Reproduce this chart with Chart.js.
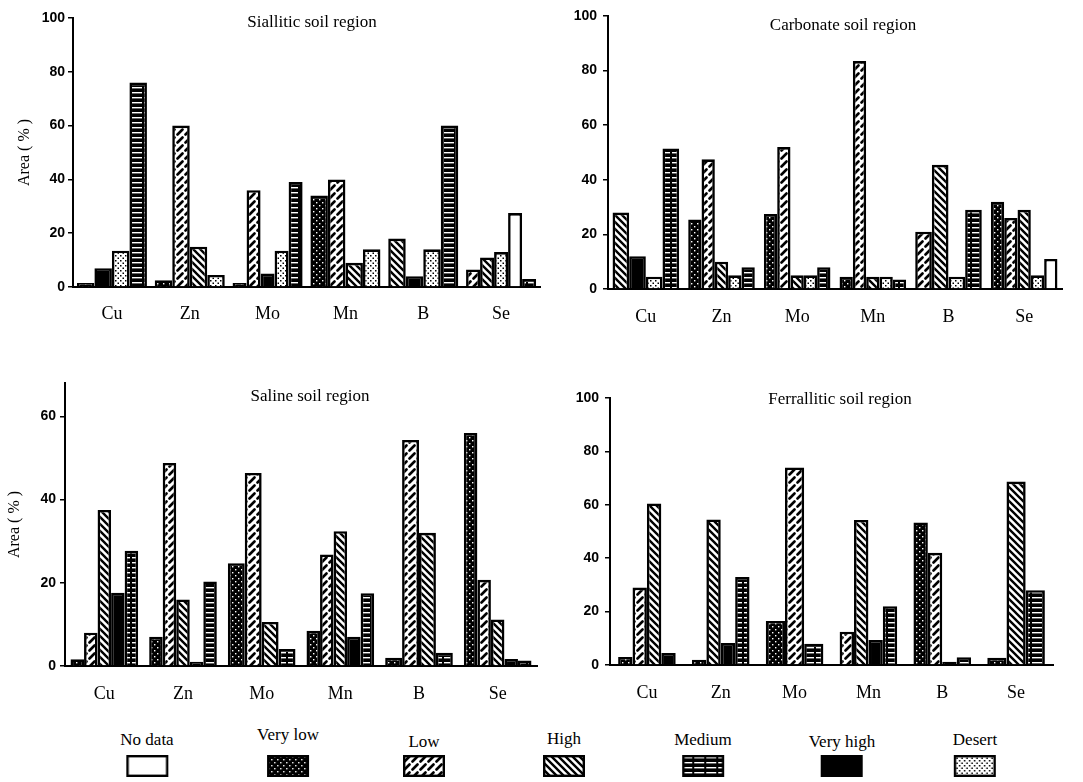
<!DOCTYPE html>
<html><head><meta charset="utf-8">
<script src="https://cdn.jsdelivr.net/npm/chart.js@4.4.0/dist/chart.umd.min.js"></script>
<style>
html,body{margin:0;padding:0;background:#fff;}
#wrap{position:relative;width:1083px;height:782px;overflow:hidden;font-family:"Liberation Serif","DejaVu Serif",serif;color:#000;}
.pc{position:absolute;}
.ttl{position:absolute;font-size:17px;transform:translate(-50%,-50%);white-space:nowrap;}
.lg{position:absolute;transform:translateX(-50%);text-align:center;font-size:17px;white-space:nowrap;line-height:18px;}
.lg canvas{display:block;margin:6px auto 0;}
</style></head><body>
<div id="wrap">
  <canvas id="c1" class="pc" style="left:0;top:0" width="548" height="330"></canvas>
  <canvas id="c2" class="pc" style="left:540px;top:0" width="543" height="330"></canvas>
  <canvas id="c3" class="pc" style="left:0;top:340px" width="548" height="370"></canvas>
  <canvas id="c4" class="pc" style="left:540px;top:340px" width="543" height="370"></canvas>
  <div class="ttl" style="left:312px;top:22px">Siallitic soil region</div>
  <div class="ttl" style="left:843px;top:25px">Carbonate soil region</div>
  <div class="ttl" style="left:310px;top:396px">Saline soil region</div>
  <div class="ttl" style="left:840px;top:399px">Ferrallitic soil region</div>
  <div id="legend"></div>
</div>
<script>
// ---- data ----
const categories = ['Cu', 'Zn', 'Mo', 'Mn', 'B', 'Se'];
const legendNames = ['No data', 'Very low', 'Low', 'High', 'Medium', 'Very high', 'Desert'];
const drawOrder = ['Very low', 'Low', 'High', 'Very high', 'Desert', 'No data', 'Medium'];
const yTickStep = 20;
const yMaxFull = 100;
const yMaxSaline = 68;
const yTitle = 'Area ( % )';

// Siallitic soil region
const siaNoData   = [null, null, null, null, null, 27.5];
const siaVeryLow  = [1.5, 2.5, 1.5, 34, null, null];
const siaLow      = [null, 60, 36, 40, null, 6.5];
const siaHigh     = [null, 15, null, 9, 18, 11];
const siaMedium   = [76, null, 39, null, 60, 3];
const siaVeryHigh = [7, null, 5, null, 4, null];
const siaDesert   = [13.5, 4.5, 13.5, 14, 14, 13];

// Carbonate soil region
const carNoData   = [null, null, null, null, null, 11];
const carVeryLow  = [null, 25.5, 27.5, 4.5, null, 32];
const carLow      = [null, 47.5, 52, 83.5, 21, 26];
const carHigh     = [28, 10, 5, 4.5, 45.5, 29];
const carMedium   = [51.5, 8, 8, 3.5, 29, null];
const carVeryHigh = [12, null, null, null, null, null];
const carDesert   = [4.5, 5, 5, 4.5, 4.5, 5];

// Saline soil region
const salNoData   = [null, null, null, null, null, null];
const salVeryLow  = [1.6, 7, 24.7, 8.5, 2, 56];
const salLow      = [8, 48.8, 46.4, 26.8, 54.3, 20.7];
const salHigh     = [37.5, 16, 10.6, 32.4, 32, 11.2];
const salMedium   = [27.7, 20.3, 4.1, 17.5, 3.2, 1.3];
const salVeryHigh = [17.6, 1, null, 7, null, 1.7];
const salDesert   = [null, null, null, null, null, null];

// Ferrallitic soil region
const ferNoData   = [null, null, null, null, null, null];
const ferVeryLow  = [3, 2, 16.5, null, 53.4, 2.7];
const ferLow      = [29, null, 74, 12.5, 42, null];
const ferHigh     = [60.5, 54.5, null, 54.3, null, 68.7];
const ferMedium   = [null, 33, 8, 22, 2.9, 28];
const ferVeryHigh = [4.5, 8.2, null, 9.4, 1.2, null];
const ferDesert   = [null, null, null, null, null, null];

// ---- patterns ----
function makePattern(kind) {
  const c = document.createElement('canvas');
  const x = c.getContext('2d');
  if (kind === 'No data') return '#ffffff';
  if (kind === 'Very high') return '#000000';
  if (kind === 'Very low') {
    c.width = 6; c.height = 6;
    x.fillStyle = '#000'; x.fillRect(0, 0, 6, 6);
    x.fillStyle = '#fff'; x.fillRect(1, 1, 1.4, 1.4); x.fillRect(4, 4, 1.4, 1.4);
  } else if (kind === 'Low') {
    c.width = 8; c.height = 8;
    x.fillStyle = '#fff'; x.fillRect(0, 0, 8, 8);
    x.strokeStyle = '#000'; x.lineWidth = 2.6; x.lineCap = 'round';
    x.beginPath(); x.moveTo(1.5, 6.5); x.lineTo(6.5, 1.5); x.stroke();
  } else if (kind === 'High') {
    c.width = 7; c.height = 7;
    x.fillStyle = '#fff'; x.fillRect(0, 0, 7, 7);
    x.strokeStyle = '#000'; x.lineWidth = 2.4;
    x.beginPath();
    x.moveTo(-1, -1); x.lineTo(8, 8);
    x.moveTo(-1, 6); x.lineTo(1, 8);
    x.moveTo(6, -1); x.lineTo(8, 1);
    x.stroke();
  } else if (kind === 'Medium') {
    c.width = 12; c.height = 5;
    x.fillStyle = '#000'; x.fillRect(0, 0, 12, 5);
    x.fillStyle = '#fff'; x.fillRect(0, 2, 10, 1.4);
  } else if (kind === 'Desert') {
    c.width = 5; c.height = 5;
    x.fillStyle = '#fff'; x.fillRect(0, 0, 5, 5);
    x.fillStyle = '#000'; x.fillRect(0, 0, 1.5, 1.5); x.fillRect(2.5, 2.5, 1.5, 1.5);
  }
  return x.createPattern(c, 'repeat');
}
const fills = {};
legendNames.forEach(n => fills[n] = makePattern(n));

// ---- charts ----
function buildChart(id, series, o) {
  const datasets = drawOrder.map(name => ({
    label: name,
    data: series[name],
    backgroundColor: fills[name],
    borderColor: '#000',
    borderWidth: 2.6,
    skipNull: true,
    categoryPercentage: o.catPct,
    barPercentage: 1
  }));
  return new Chart(document.getElementById(id), {
    type: 'bar',
    data: { labels: categories, datasets },
    options: {
      responsive: false,
      animation: false,
      layout: { padding: { left: 0, right: o.padRight, top: o.padTop, bottom: 0 } },
      plugins: { legend: { display: false }, tooltip: { enabled: false } },
      scales: {
        x: {
          grid: { display: false },
          border: { display: true, color: '#000', width: 2 },
          ticks: { color: '#000', font: { family: 'Liberation Serif', size: 18 }, padding: o.xPad, maxRotation: 0 },
          afterFit: s => { s.height = o.xH; }
        },
        y: {
          min: 0, max: o.yMax,
          ticks: { stepSize: yTickStep, includeBounds: false, color: '#000',
                   font: { family: 'Liberation Sans', size: 14, weight: 'bold' }, padding: o.yPad },
          grid: { drawOnChartArea: false, drawTicks: true, tickLength: 5, color: '#000', lineWidth: 1.5 },
          border: { display: true, color: '#000', width: 2 },
          title: { display: !!o.yTitle, text: yTitle, color: '#000',
                   font: { family: 'Liberation Serif', size: 16 }, padding: { top: o.tPad, bottom: 0 } },
          afterFit: s => { s.width = o.yW; }
        }
      }
    }
  });
}

buildChart('c1', {
  'No data': siaNoData, 'Very low': siaVeryLow, 'Low': siaLow, 'High': siaHigh,
  'Medium': siaMedium, 'Very high': siaVeryHigh, 'Desert': siaDesert
}, { catPct: 0.9, padRight: 8, padTop: 18, xH: 43, yW: 73, xPad: 8, yPad: 3, yMax: yMaxFull, yTitle: true, tPad: 15 });

buildChart('c2', {
  'No data': carNoData, 'Very low': carVeryLow, 'Low': carLow, 'High': carHigh,
  'Medium': carMedium, 'Very high': carVeryHigh, 'Desert': carDesert
}, { catPct: 0.88, padRight: 21, padTop: 16, xH: 41, yW: 68, xPad: 9, yPad: 6, yMax: yMaxFull, yTitle: false });

buildChart('c3', {
  'No data': salNoData, 'Very low': salVeryLow, 'Low': salLow, 'High': salHigh,
  'Medium': salMedium, 'Very high': salVeryHigh, 'Desert': salDesert
}, { catPct: 0.86, padRight: 11, padTop: 43, xH: 44, yW: 65, xPad: 9, yPad: 4, yMax: yMaxSaline, yTitle: true, tPad: 5 });

buildChart('c4', {
  'No data': ferNoData, 'Very low': ferVeryLow, 'Low': ferLow, 'High': ferHigh,
  'Medium': ferMedium, 'Very high': ferVeryHigh, 'Desert': ferDesert
}, { catPct: 0.78, padRight: 30, padTop: 58, xH: 45, yW: 70, xPad: 9, yPad: 6, yMax: yMaxFull, yTitle: false });

// ---- shared legend ----
const legendCenters = [147, 288, 424, 564, 703, 842, 975];
const legendTops = [731, 726, 733, 730, 731, 733, 731];
const lg = document.getElementById('legend');
legendNames.forEach((name, i) => {
  const d = document.createElement('div');
  d.className = 'lg';
  d.style.left = legendCenters[i] + 'px';
  d.style.top = legendTops[i] + 'px';
  const t = document.createElement('div');
  t.textContent = name;
  d.appendChild(t);
  const sw = document.createElement('canvas');
  sw.width = 42; sw.height = 22;
  sw.style.marginTop = (755 - legendTops[i] - 18) + 'px';
  const cx = sw.getContext('2d');
  cx.fillStyle = fills[name];
  cx.fillRect(0, 0, 42, 22);
  cx.strokeStyle = '#000'; cx.lineWidth = 2.4;
  cx.strokeRect(1.2, 1.2, 39.6, 19.6);
  d.appendChild(sw);
  lg.appendChild(d);
});
</script>
</body></html>
